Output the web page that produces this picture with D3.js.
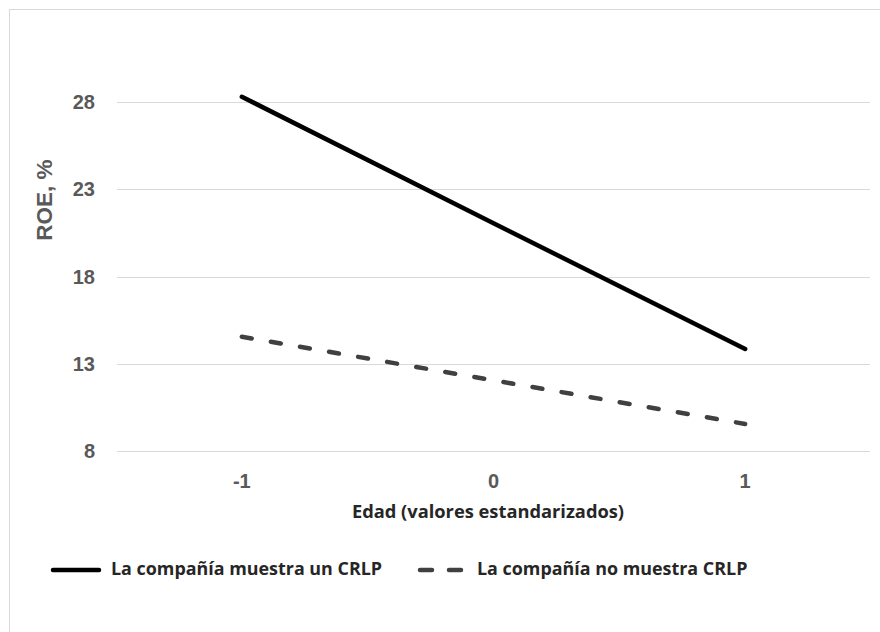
<!DOCTYPE html>
<html>
<head>
<meta charset="utf-8">
<script src="https://cdn.jsdelivr.net/npm/d3@7"></script>
<style>
  body { margin: 0; background: #fff; }
  .tick-label { font-family: "Liberation Sans", Arial, sans-serif; font-weight: bold; font-size: 20px; fill: #595959; }
  .y-title { font-family: "Liberation Sans", Arial, sans-serif; font-weight: bold; font-size: 22.5px; fill: #595959; }
  .x-title { font-family: "Open Sans", sans-serif; font-weight: bold; font-size: 18.3px; fill: #262626; }
  .legend-text { font-family: "Open Sans", sans-serif; font-weight: bold; font-size: 17.9px; fill: #262626; }
</style>
</head>
<body>
<div id="chart"></div>
<script>
// Chart data
const categories = ['-1', '0', '1'];
const conCRLP = [28.3, 21.05, 13.85];   // La compañía muestra un CRLP
const sinCRLP = [14.55, 12.05, 9.55];   // La compañía no muestra CRLP
const yTicks = [8, 13, 18, 23, 28];
const seriesNames = ['La compañía muestra un CRLP', 'La compañía no muestra CRLP'];

const width = 880;
const height = 632;

const svg = d3.select('#chart').append('svg')
  .attr('width', width)
  .attr('height', height);

// outer frame
svg.append('rect')
  .attr('x', 9.5)
  .attr('y', 9.5)
  .attr('width', width)
  .attr('height', height)
  .attr('fill', 'none')
  .attr('stroke', '#d9d9d9')
  .attr('stroke-width', 1);

const xScale = d3.scalePoint()
  .domain(categories)
  .range([116, 871])
  .padding(0.5);

const yScale = d3.scaleLinear()
  .domain([8, 28])
  .range([451, 102]);

// Gridlines
svg.append('g')
  .selectAll('line')
  .data(yTicks)
  .join('line')
  .attr('x1', 117)
  .attr('x2', 870)
  .attr('y1', d => Math.round(yScale(d)) + 0.5)
  .attr('y2', d => Math.round(yScale(d)) + 0.5)
  .attr('stroke', '#d9d9d9')
  .attr('stroke-width', 1);

// Y tick labels
svg.append('g')
  .selectAll('text')
  .data(yTicks)
  .join('text')
  .attr('class', 'tick-label')
  .attr('x', 95)
  .attr('y', d => yScale(d) + 7)
  .attr('text-anchor', 'end')
  .text(d => d);

// X tick labels
svg.append('g')
  .selectAll('text')
  .data(categories)
  .join('text')
  .attr('class', 'tick-label')
  .attr('x', d => xScale(d))
  .attr('y', 488)
  .attr('text-anchor', 'middle')
  .text(d => d);

// Axis titles
svg.append('text')
  .attr('class', 'y-title')
  .attr('transform', 'translate(52,200) rotate(-90)')
  .attr('text-anchor', 'middle')
  .text('ROE, %');

svg.append('text')
  .attr('class', 'x-title')
  .attr('x', 488)
  .attr('y', 518)
  .attr('text-anchor', 'middle')
  .text('Edad (valores estandarizados)');

// Lines
const line = d3.line()
  .x((d, i) => xScale(categories[i]))
  .y(d => yScale(d));

svg.append('path')
  .datum(conCRLP)
  .attr('d', line)
  .attr('fill', 'none')
  .attr('stroke', '#000')
  .attr('stroke-width', 4.5)
  .attr('stroke-linecap', 'round');

svg.append('path')
  .datum(sinCRLP)
  .attr('d', line)
  .attr('fill', 'none')
  .attr('stroke', '#404040')
  .attr('stroke-width', 4.5)
  .attr('stroke-linecap', 'round')
  .attr('stroke-dasharray', '10,19.5');

// Legend
const legendY = 570;
svg.append('line')
  .attr('x1', 53).attr('x2', 99)
  .attr('y1', legendY).attr('y2', legendY)
  .attr('stroke', '#000')
  .attr('stroke-width', 4.5)
  .attr('stroke-linecap', 'round');

svg.append('text')
  .attr('class', 'legend-text')
  .attr('x', 111)
  .attr('y', legendY + 5)
  .text(seriesNames[0]);

svg.append('line')
  .attr('x1', 420).attr('x2', 461)
  .attr('y1', legendY).attr('y2', legendY)
  .attr('stroke', '#404040')
  .attr('stroke-width', 4.5)
  .attr('stroke-linecap', 'round')
  .attr('stroke-dasharray', '12,17');

svg.append('text')
  .attr('class', 'legend-text')
  .attr('x', 477)
  .attr('y', legendY + 5)
  .text(seriesNames[1]);
</script>
</body>
</html>
